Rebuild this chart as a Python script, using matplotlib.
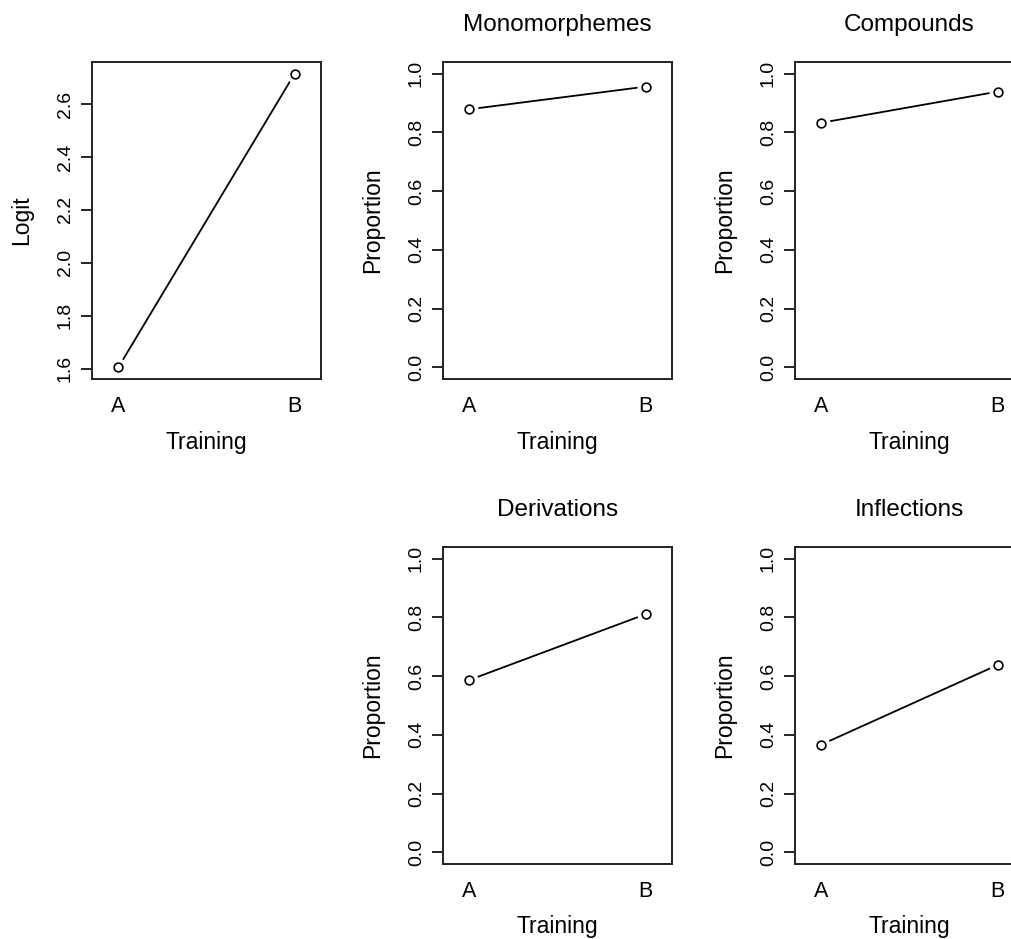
import matplotlib
matplotlib.use('Agg')
import matplotlib.pyplot as plt
import numpy as np

plt.rcParams['font.family'] = ['Liberation Sans', 'DejaVu Sans']

training = ['A', 'B']
logit = [1.605, 2.715]
titles = ['Monomorphemes', 'Compounds', 'Derivations', 'Inflections']
proportions = [
    [0.879, 0.956],
    [0.833, 0.939],
    [0.587, 0.811],
    [0.367, 0.638],
]

W, H = 1012, 939
fig = plt.figure(figsize=(W / 100, H / 100), dpi=100)

lefts = [92, 443, 795]
box_w = 229
box_h = 317
tops = [62, 547]


def panel(col, row, y, ylab, title=None, yticks=None, ylim=None):
    ax = fig.add_axes([lefts[col] / W, 1 - (tops[row] + box_h) / H, box_w / W, box_h / H])
    x = np.arange(1, len(y) + 1)
    ax.plot(x, y, color='black', lw=1.3, zorder=1)
    # white ring to cut the line near each point, like R's type="b"
    ax.plot(x, y, 'o', ms=12, mfc='white', mec='white', zorder=2)
    ax.plot(x, y, 'o', ms=6.3, mfc='white', mec='black', mew=1.2, zorder=3)
    ax.set_xlim(0.85, 2.15)
    if ylim is None:
        pad = 0.04 * (max(y) - min(y))
        ylim = (min(y) - pad, max(y) + pad)
    ax.set_ylim(*ylim)
    ax.set_yticks(yticks)
    ax.set_yticklabels(['%.1f' % t for t in yticks], rotation=90, va='center', fontsize=14)
    ax.set_xticks(x)
    ax.set_xticklabels(training, fontsize=15.5)
    ax.tick_params(axis='x', length=0, pad=12)
    ax.tick_params(axis='y', length=8, width=1.2, pad=5)
    for s in ax.spines.values():
        s.set_linewidth(1.4)
        s.set_color('#222222')
    ax.text(0.5, -63 / box_h, 'Training', transform=ax.transAxes,
            ha='center', va='center', fontsize=16.5)
    ax.text(-70 / box_w, 0.5, ylab, transform=ax.transAxes, rotation=90,
            ha='center', va='center', fontsize=16.5)
    if title:
        ax.text(0.5, 1 + 37 / box_h, title, transform=ax.transAxes,
                ha='center', va='center', fontsize=17.5)
    return ax


panel(0, 0, logit, 'Logit', yticks=np.arange(1.6, 2.61, 0.2))
spots = [(1, 0), (2, 0), (1, 1), (2, 1)]
for (c, r), t, p in zip(spots, titles, proportions):
    panel(c, r, p, 'Proportion', title=t, yticks=np.arange(0, 1.01, 0.2), ylim=(-0.04, 1.04))

fig.savefig('out.png', dpi=100)
